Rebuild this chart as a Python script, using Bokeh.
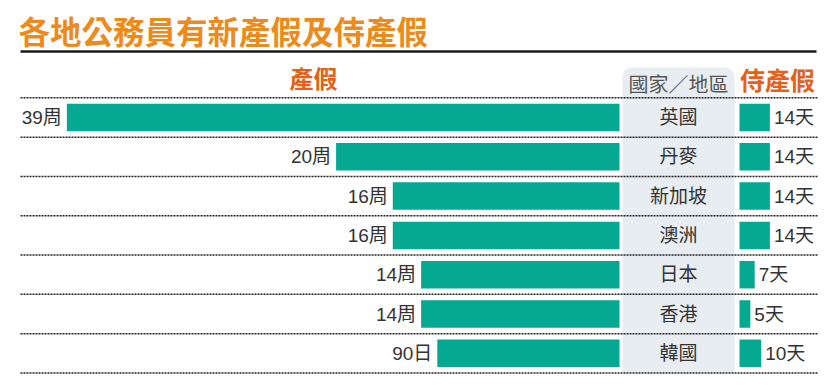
from bokeh.plotting import figure
from bokeh.models import Range1d, ColumnDataSource
from bokeh.core.properties import value
from bokeh.embed import file_html
from bokeh.resources import INLINE

# ---- data ----
title_text = "各地公務員有新產假及侍產假"
header_left = "產假"
header_mid = "國家／地區"
header_right = "侍產假"
regions = ["英國", "丹麥", "新加坡", "澳洲", "日本", "香港", "韓國"]
maternity_value = [39, 20, 16, 16, 14, 14, 90]
maternity_unit = ["周", "周", "周", "周", "周", "周", "日"]
paternity_days = [14, 14, 14, 14, 7, 5, 10]

# ---- derived ----
W, H = 832, 385
rows = list(range(len(regions)))
mat_weeks = [v if u == "周" else v / 7.0 for v, u in zip(maternity_value, maternity_unit)]
mat_labels = [f"{v}{u}" for v, u in zip(maternity_value, maternity_unit)]
pat_labels = [f"{d}天" for d in paternity_days]

ZERO_W = 619.0   # x of maternity bar right end
PX_W = 14.17     # px per week
ZERO_D = 739.0   # x of paternity bar start
PX_D = 2.17      # px per day
ROW0 = 117.0     # y of first row centre
PX_R = 39.3      # px per row

p = figure(width=W, height=H, output_backend="svg", toolbar_location=None,
           x_range=Range1d(0, W), y_range=Range1d(H, 0),
           min_border=0, x_axis_location=None, y_axis_location=None)
p.extra_x_ranges = {
    "weeks": Range1d(-ZERO_W / PX_W, (W - ZERO_W) / PX_W),
    "days": Range1d(-ZERO_D / PX_D, (W - ZERO_D) / PX_D),
}
p.extra_y_ranges = {"rows": Range1d((H - ROW0) / PX_R, -ROW0 / PX_R)}
p.grid.visible = False
p.outline_line_color = None
p.background_fill_color = "white"
p.border_fill_color = "white"

CJK = value("Liberation Sans, Noto Sans CJK TC")
CJKB = value("Noto Sans CJK TC")

# gray column box
p.quad(left=[622], right=[734], top=[67], bottom=[372.5], fill_color="#E8EDF2",
       line_color=None, border_radius=(9, 9, 0, 0))

# dotted separators
seps = [r - 0.5 for r in rows] + [rows[-1] + 0.5]
p.segment(x0=[20] * len(seps), x1=[817] * len(seps), y0=seps, y1=seps,
          y_range_name="rows", line_color="#222222", line_width=1.5, line_dash="2 1")

# title & rule
p.text(x=[18], y=[29], text=[title_text], text_font=CJKB, text_font_style="bold",
       text_font_size="31.5px", text_color="#EC8B1C", text_baseline="middle")
p.segment(x0=[20], x1=[816], y0=[51], y1=[51], line_color="#1a1a1a", line_width=2.5)

# headers
p.text(x=[313], y=[77], text=[header_left], text_font=CJKB, text_font_style="bold",
       text_font_size="24px", text_color="#E2621B", text_align="center", text_baseline="middle")
p.text(x=[777], y=[78], text=[header_right], text_font=CJKB, text_font_style="bold",
       text_font_size="25px", text_color="#E2621B", text_align="center", text_baseline="middle")
p.text(x=[678], y=[84], text=[header_mid], text_font=CJK, text_font_size="20px",
       text_color="#555555", text_align="center", text_baseline="middle")

src = ColumnDataSource(dict(row=rows, weeks=mat_weeks, neg=[-w for w in mat_weeks],
                            days=paternity_days, mlab=mat_labels, plab=pat_labels,
                            region=regions, zero=[0] * len(rows)))

# maternity bars
p.hbar(y="row", left="neg", right="zero", height=0.7, source=src,
       x_range_name="weeks", y_range_name="rows", fill_color="#05A891", line_color=None)
p.text(x="neg", y="row", text="mlab", source=src, x_range_name="weeks", y_range_name="rows",
       x_offset=-5, text_align="right", text_baseline="middle", text_font=CJK,
       text_font_size="19px", text_color="#333333")

# paternity bars
p.hbar(y="row", left="zero", right="days", height=0.7, source=src,
       x_range_name="days", y_range_name="rows", fill_color="#05A891", line_color=None)
p.text(x="days", y="row", text="plab", source=src, x_range_name="days", y_range_name="rows",
       x_offset=4, text_align="left", text_baseline="middle", text_font=CJK,
       text_font_size="19px", text_color="#333333")

# region names
p.text(x=[678] * len(rows), y=rows, text=regions, y_range_name="rows",
       text_align="center", text_baseline="middle", text_font=CJK,
       text_font_size="19px", text_color="#333333")

open("out.html", "w").write(file_html(p, INLINE))
